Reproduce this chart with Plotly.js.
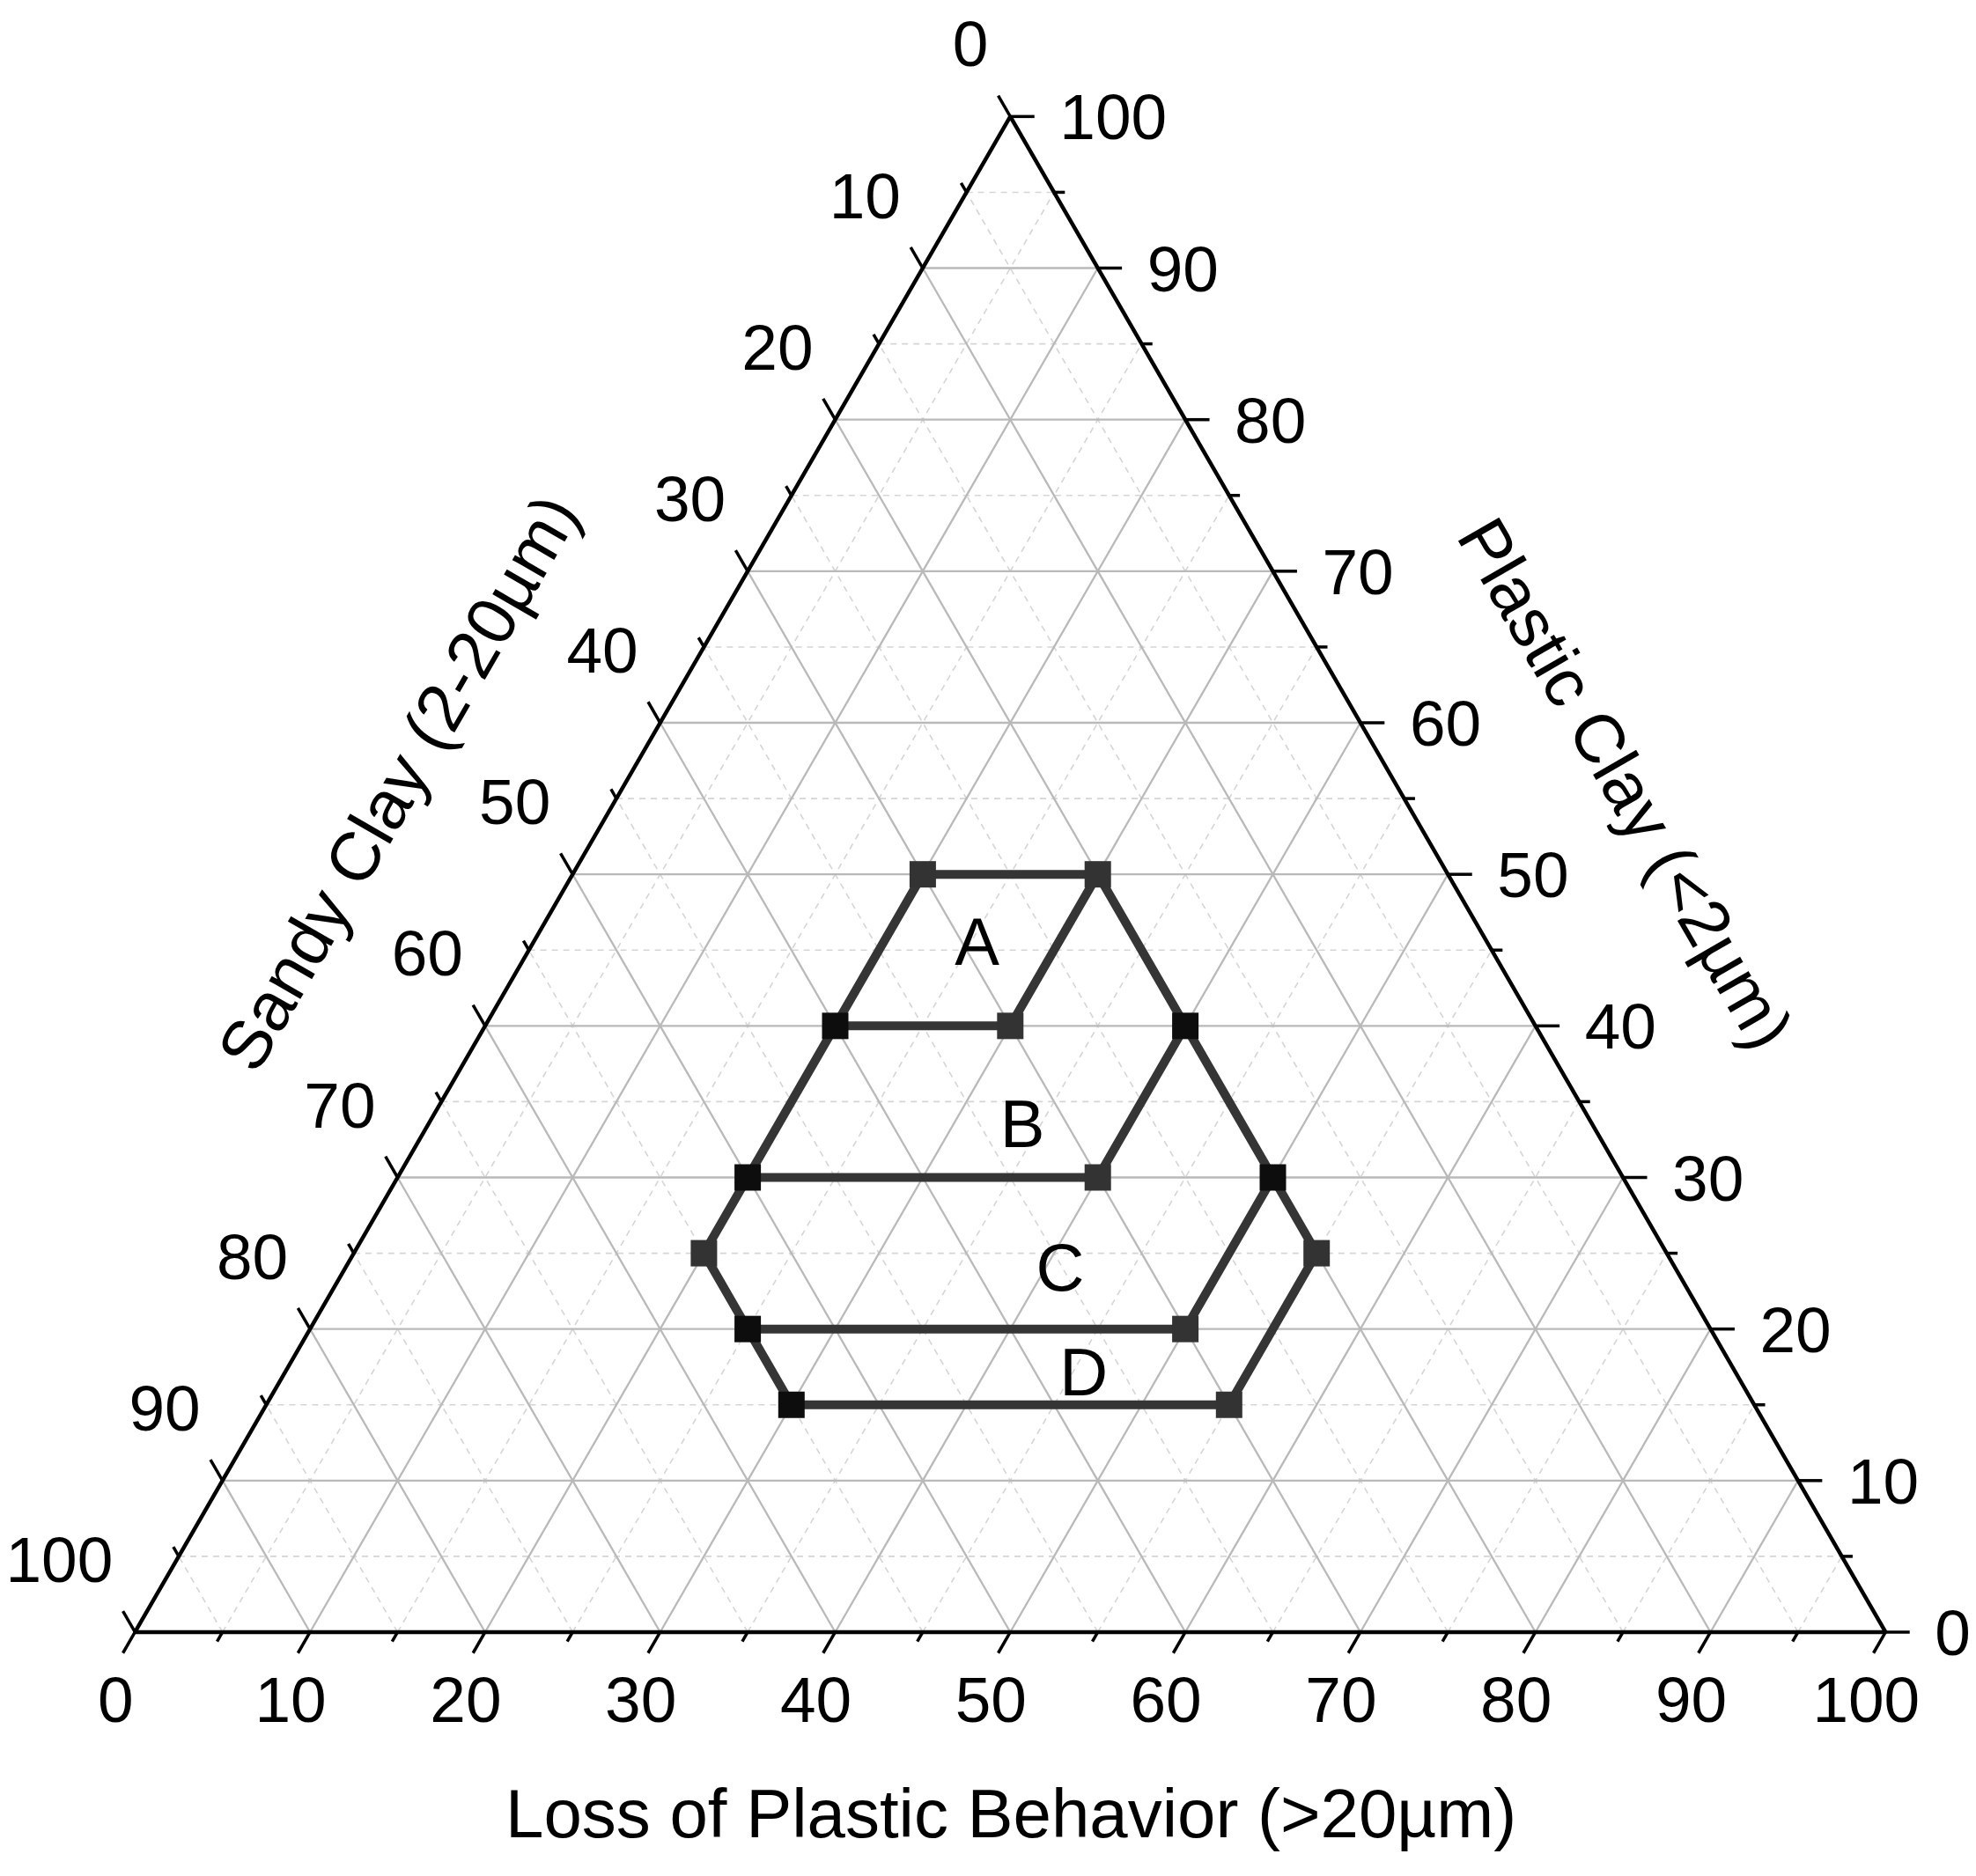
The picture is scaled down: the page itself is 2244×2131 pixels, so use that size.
<!DOCTYPE html>
<html>
<head>
<meta charset="utf-8">
<script src="https://cdn.plot.ly/plotly-3.0.1.min.js"></script>
<style>
html, body { margin: 0; padding: 0; background: #ffffff; }
#chart { width: 2244px; height: 2131px; }
</style>
</head>
<body>
<div id="chart"></div>
<script>
// ---------------- DATA (compositions in %) ----------------
// Boundary vertices of the zones: Plastic Clay (<2µm), Sandy Clay (2-20µm), Loss of Plastic Behavior (>20µm)
const vertexPlastic = [50, 50, 40, 40, 40, 30, 30, 30, 25, 25, 20, 20, 15, 15];
const vertexSandy   = [30, 20, 40, 30, 20, 50, 30, 20, 55, 20, 55, 30, 55, 30];
const vertexLoss    = [20, 30, 20, 30, 40, 20, 40, 50, 20, 55, 25, 50, 30, 55];

// Polylines joining the vertices (indices into the vertex arrays)
const outlinePath = [0, 1, 4, 7, 9, 13, 12, 10, 8, 5, 2, 0];
const dividerAB = [2, 3, 1];
const dividerBC = [5, 6, 4];
const dividerCD = [10, 11, 7];

// Zone labels
const regionNames   = ['A', 'B', 'C', 'D'];
const regionPlastic = [45.6, 33.6, 24.1, 17.2];
const regionSandy   = [29.1, 32.5, 35.1, 37.2];
const regionLoss    = [25.3, 33.9, 40.8, 45.6];

// Axes
const majorValues = [0, 10, 20, 30, 40, 50, 60, 70, 80, 90, 100];
const minorValues = [5, 15, 25, 35, 45, 55, 65, 75, 85, 95];
const tickLabels  = ['0', '10', '20', '30', '40', '50', '60', '70', '80', '90', '100'];
const titlePlastic = 'Plastic Clay (<2µm)';
const titleSandy   = 'Sandy Clay (2-20µm)';
const titleLoss    = 'Loss of Plastic Behavior (>20µm)';

// ---------------- STYLE ----------------
const FONT = 'Liberation Sans, Arial, Helvetica, sans-serif';
const markerShade = ['#333333', '#333333', '#0d0d0d', '#333333', '#0d0d0d', '#0d0d0d', '#333333',
                     '#0d0d0d', '#333333', '#333333', '#0d0d0d', '#333333', '#0d0d0d', '#333333'];
const PX = 19.88;               // pixels per axis unit (for text offsets)
const TICK_FS = 73, TITLE_FS = 78, REGION_FS = 76;

// ---------------- TERNARY PROJECTION ----------------
const K = Math.sqrt(3) / 2;
function xy(p, s, l) {
  const t = p + s + l;
  return [(l + p / 2) * 100 / t, p * K * 100 / t];
}
function segs(list) {
  const x = [], y = [];
  list.forEach(seg => {
    seg.forEach(pt => { const c = xy(pt[0], pt[1], pt[2]); x.push(c[0]); y.push(c[1]); });
    x.push(null); y.push(null);
  });
  return { x, y };
}
function gridSegments(values) {
  const out = [];
  values.forEach(v => {
    out.push([[v, 100 - v, 0], [v, 0, 100 - v]]);       // constant Plastic
    out.push([[0, v, 100 - v], [100 - v, v, 0]]);       // constant Sandy
    out.push([[0, 100 - v, v], [100 - v, 0, v]]);       // constant Loss
  });
  return out;
}
function tickSegments(values, len) {
  const out = [];
  values.forEach(v => {
    out.push([[v, 0, 100 - v], [v, -len, 100 - v + len]]);   // Plastic ticks (right edge)
    out.push([[100 - v, v, 0], [100 - v + len, v, -len]]);   // Sandy ticks (left edge)
    out.push([[0, 100 - v, v], [-len, 100 - v + len, v]]);   // Loss ticks (bottom edge)
  });
  return out;
}
function pathXY(indices) {
  const x = [], y = [];
  indices.forEach(i => {
    const c = xy(vertexPlastic[i], vertexSandy[i], vertexLoss[i]);
    x.push(c[0]); y.push(c[1]);
  });
  return { x, y };
}
const midShift = fs => 0.108 * fs / PX;   // centre the cap height on the anchor

const traces = [];

// minor grid (dashed)
const gMinor = segs(gridSegments(minorValues));
traces.push({ type: 'scatter', mode: 'lines', x: gMinor.x, y: gMinor.y,
  line: { color: '#d5d5d5', width: 1.6, dash: '7px,6px' }, hoverinfo: 'skip' });

// major grid
const gMajor = segs(gridSegments(majorValues.filter(v => v > 0 && v < 100)));
traces.push({ type: 'scatter', mode: 'lines', x: gMajor.x, y: gMajor.y,
  line: { color: '#b9b9b9', width: 2.3 }, hoverinfo: 'skip' });

// zone boundaries
[outlinePath, dividerAB, dividerBC, dividerCD].forEach(path => {
  const p = pathXY(path);
  traces.push({ type: 'scatter', mode: 'lines', x: p.x, y: p.y,
    line: { color: '#353535', width: 10 }, hoverinfo: 'skip' });
});

// vertices
const vx = [], vy = [];
vertexPlastic.forEach((p, i) => { const c = xy(p, vertexSandy[i], vertexLoss[i]); vx.push(c[0]); vy.push(c[1]); });
traces.push({ type: 'scatter', mode: 'markers', x: vx, y: vy,
  marker: { symbol: 'square', size: 30, color: markerShade, line: { width: 0 } }, hoverinfo: 'skip' });

// zone labels
const rx = [], ry = [];
regionNames.forEach((n, i) => { const c = xy(regionPlastic[i], regionSandy[i], regionLoss[i]); rx.push(c[0]); ry.push(c[1] - midShift(REGION_FS)); });
traces.push({ type: 'scatter', mode: 'text', x: rx, y: ry, text: regionNames,
  textposition: 'middle center', textfont: { family: FONT, size: REGION_FS, color: '#000' }, hoverinfo: 'skip' });

// triangle frame
const frame = segs([[[100, 0, 0], [0, 100, 0], [0, 0, 100], [100, 0, 0]]]);
traces.push({ type: 'scatter', mode: 'lines', x: frame.x, y: frame.y,
  line: { color: '#000', width: 4.5 }, hoverinfo: 'skip' });

// ticks
const tMaj = segs(tickSegments(majorValues, 1.38));
traces.push({ type: 'scatter', mode: 'lines', x: tMaj.x, y: tMaj.y,
  line: { color: '#000', width: 3.5 }, hoverinfo: 'skip' });
const tMin = segs(tickSegments(minorValues, 0.62));
traces.push({ type: 'scatter', mode: 'lines', x: tMin.x, y: tMin.y,
  line: { color: '#000', width: 3.5 }, hoverinfo: 'skip' });

// tick labels
const sh = midShift(TICK_FS);
const rightX = [], rightY = [], leftX = [], leftY = [], botX = [], botY = [];
majorValues.forEach(v => {
  const r = xy(v, 0, 100 - v);  rightX.push(r[0] + 56 / PX); rightY.push(r[1] - sh);
  const l = xy(100 - v, v, 0);  leftX.push(l[0] - 25 / PX);  leftY.push(l[1] + 83 / PX - sh);
  const b = xy(0, 100 - v, v);  botX.push(b[0] - 22 / PX);   botY.push(b[1] - 76 / PX - sh);
});
const tf = { family: FONT, size: TICK_FS, color: '#000' };
traces.push({ type: 'scatter', mode: 'text', x: rightX, y: rightY, text: tickLabels,
  textposition: 'middle right', textfont: tf, hoverinfo: 'skip', cliponaxis: false });
traces.push({ type: 'scatter', mode: 'text', x: leftX, y: leftY, text: tickLabels,
  textposition: 'middle left', textfont: tf, hoverinfo: 'skip', cliponaxis: false });
traces.push({ type: 'scatter', mode: 'text', x: botX, y: botY, text: tickLabels,
  textposition: 'middle center', textfont: tf, hoverinfo: 'skip', cliponaxis: false });

const titleFont = { family: FONT, size: TITLE_FS, color: '#000' };
const layout = {
  width: 2244, height: 2131,
  margin: { l: 0, r: 0, t: 0, b: 0, pad: 0 },
  paper_bgcolor: '#ffffff', plot_bgcolor: '#ffffff',
  showlegend: false, hovermode: false,
  font: { family: FONT, color: '#000' },
  xaxis: { visible: false, range: [-7.711, 105.166], fixedrange: true },
  yaxis: { visible: false, range: [-13.934, 93.26], fixedrange: true },
  annotations: [
    { text: titleLoss, xref: 'x', yref: 'y', x: 50.04, y: -10.36, showarrow: false,
      xanchor: 'center', yanchor: 'middle', font: titleFont },
    { text: titleSandy, xref: 'x', yref: 'y', x: 15.03, y: 48.54, showarrow: false,
      xanchor: 'center', yanchor: 'middle', textangle: -60, font: titleFont },
    { text: titlePlastic, xref: 'x', yref: 'y', x: 85.15, y: 48.49, showarrow: false,
      xanchor: 'center', yanchor: 'middle', textangle: 60, font: titleFont }
  ]
};

Plotly.newPlot('chart', traces, layout, { staticPlot: true, displayModeBar: false });
</script>
</body>
</html>
